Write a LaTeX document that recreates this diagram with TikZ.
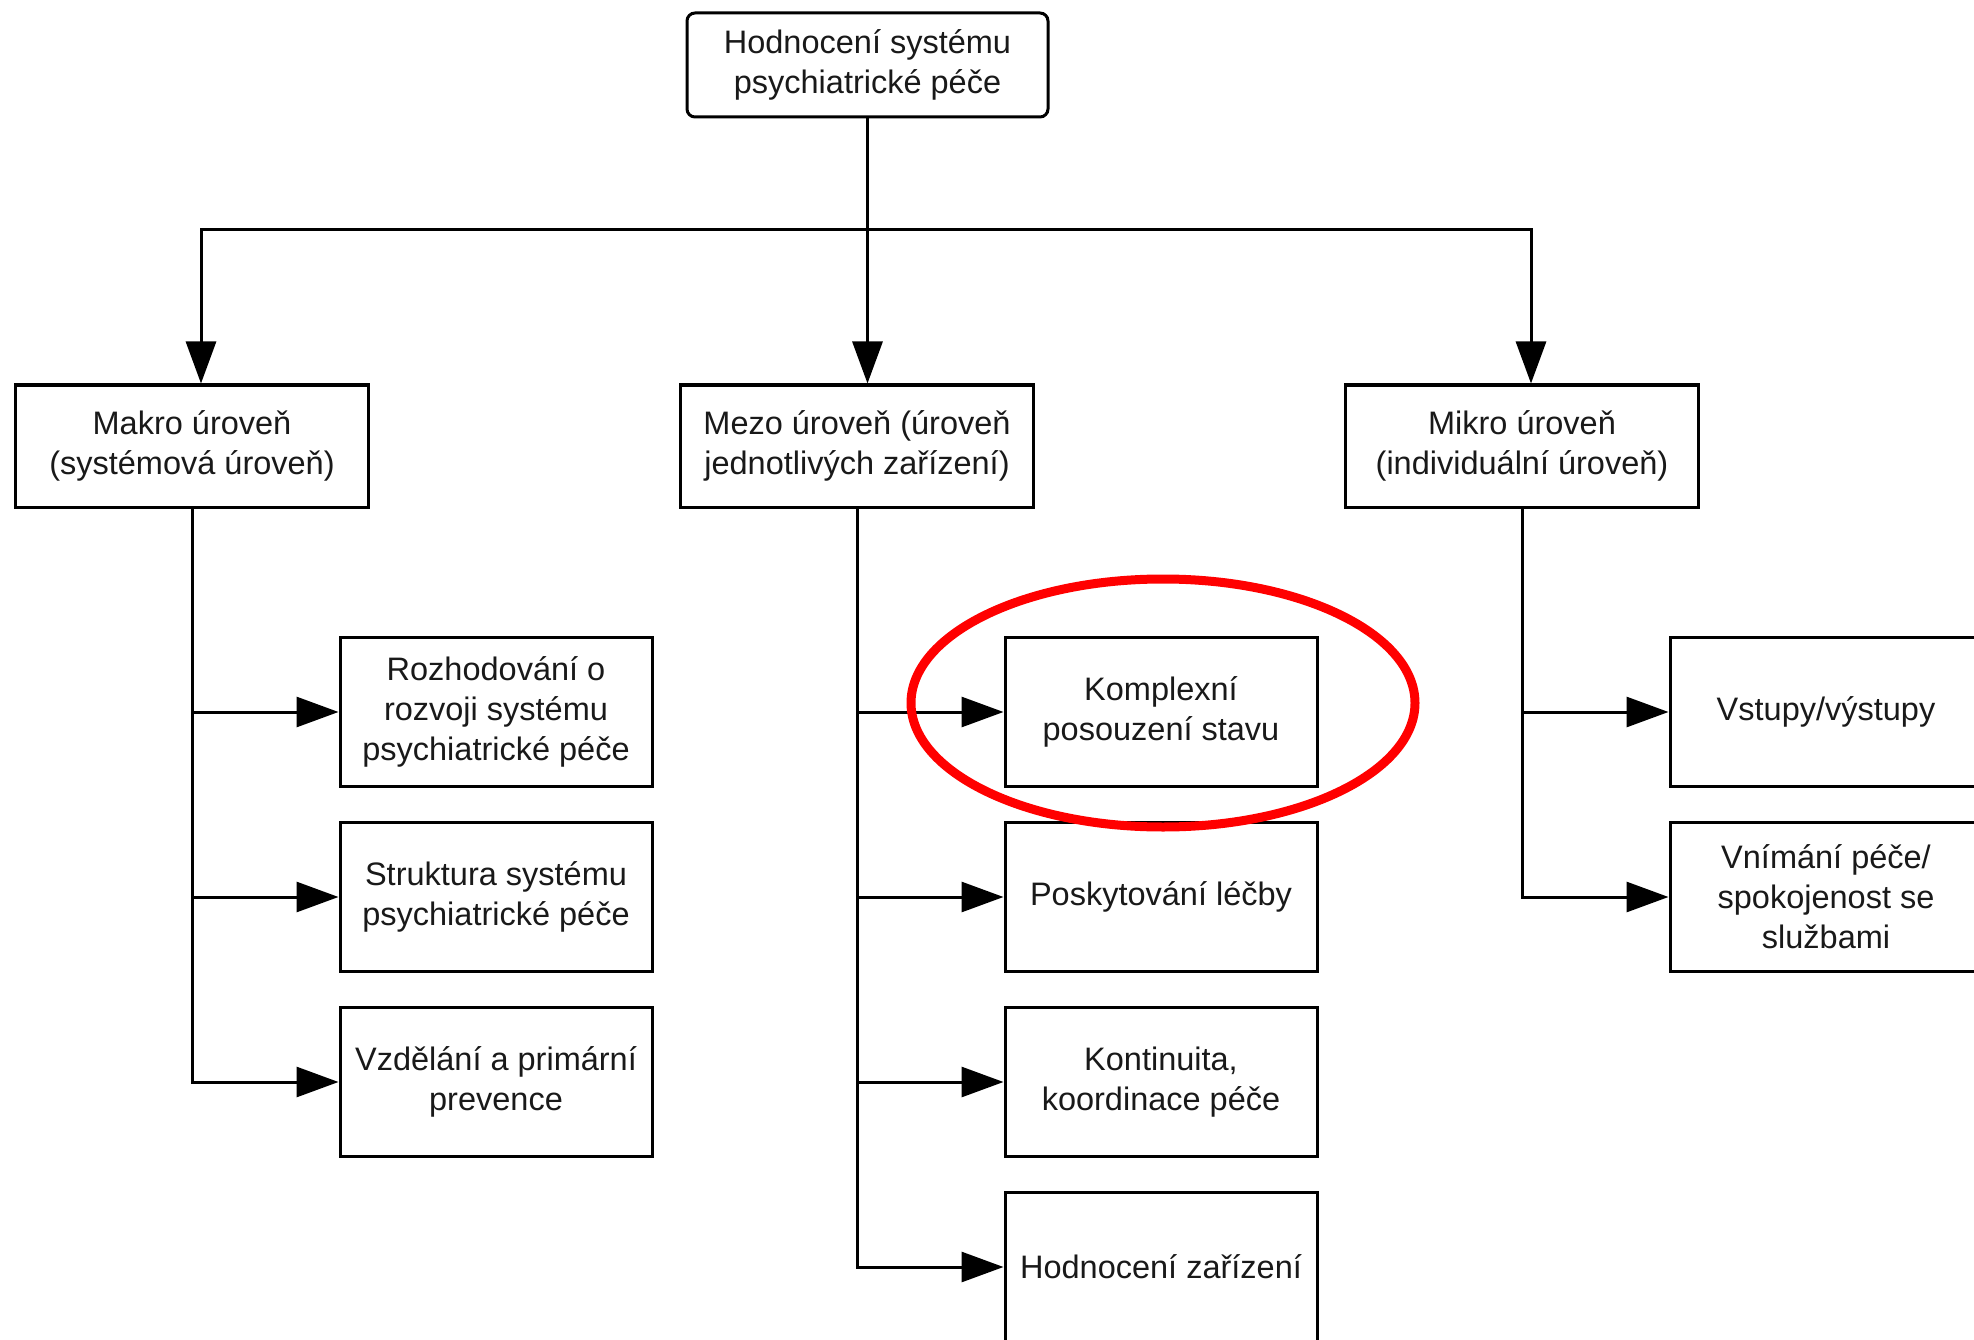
\documentclass[tikz,border=0pt]{standalone}
\usepackage{fontspec}
\setmainfont{Liberation Sans}
\usetikzlibrary{arrows.meta}
\begin{document}
\begin{tikzpicture}[x=1pt,y=-1pt,
  every node/.style={font=\fontsize{32.5}{40}\selectfont, align=center, inner sep=0pt, text=black!90},
  topbox/.style={draw, line width=3pt, rounded corners=8pt, minimum width=361pt, minimum height=104pt},
  lvbox/.style={draw, line width=3pt, minimum width=353pt, minimum height=122pt},
  cbox/.style={draw, line width=3pt, minimum width=312pt, minimum height=149pt},
  link/.style={line width=3pt},
  arr/.style={line width=3pt, -{Triangle[length=42pt,width=30pt]}}]
\useasboundingbox (0,0) rectangle (1974,1340);
\clip (0,0) rectangle (1974,1340);
\fill[white] (0,0) rectangle (1974,1340);

\node[topbox] (top) at (867.5,65) {Hodnocení systému\\psychiatrické péče};

\node[lvbox] (makro) at (192,446) {Makro úroveň\\(systémová úroveň)};
\node[lvbox] (mezo) at (857,446) {Mezo úroveň (úroveň\\jednotlivých zařízení)};
\node[lvbox] (mikro) at (1522,446) {Mikro úroveň\\(individuální úroveň)};

\node[cbox] (a1) at (496,712) {Rozhodování o\\rozvoji systému\\psychiatrické péče};
\node[cbox] (a2) at (496,897) {Struktura systému\\psychiatrické péče};
\node[cbox] (a3) at (496,1082) {Vzdělání a primární\\prevence};

\node[cbox] (b1) at (1161,712) {Komplexní\\posouzení stavu};
\node[cbox] (b2) at (1161,897) {Poskytování léčby};
\node[cbox] (b3) at (1161,1082) {Kontinuita,\\koordinace péče};
\node[cbox] (b4) at (1161,1267) {Hodnocení zařízení};

\node[cbox] (c1) at (1826,712) {Vstupy/výstupy};
\node[cbox] (c2) at (1826,897) {Vnímání péče/\\spokojenost se\\službami};

% top connectors
\coordinate (bus) at (top.south |- 0,230);
\coordinate (tl) at (201,0);
\coordinate (tr) at (1531,0);
\draw[arr] (top.south) -- (top.south |- mezo.north);
\draw[arr] (bus) -| (tl |- makro.north);
\draw[arr] (bus) -| (tr |- mikro.north);

% makro branch
\draw[arr] (makro.south) |- (a3.west);
\draw[arr] (makro.south |- a1.west) -- (a1.west);
\draw[arr] (makro.south |- a2.west) -- (a2.west);

% mezo branch
\draw[arr] (mezo.south) |- (b4.west);
\draw[arr] (mezo.south |- b1.west) -- (b1.west);
\draw[arr] (mezo.south |- b2.west) -- (b2.west);
\draw[arr] (mezo.south |- b3.west) -- (b3.west);

% mikro branch
\draw[arr] (mikro.south) |- (c2.west);
\draw[arr] (mikro.south |- c1.west) -- (c1.west);

% highlight
\draw[red, line width=9pt] (1163,703) ellipse [x radius=252, y radius=124];
\end{tikzpicture}
\end{document}
